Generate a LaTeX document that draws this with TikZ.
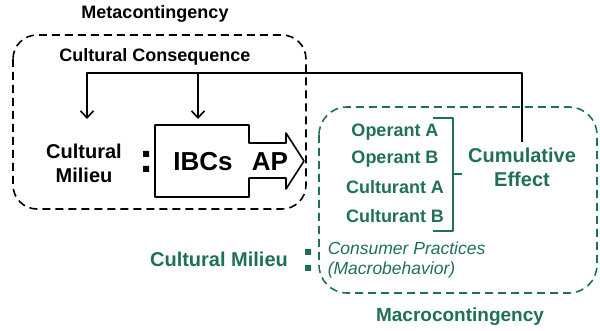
\documentclass[tikz,border=0pt]{standalone}
\usepackage{fontspec}
\setmainfont{Liberation Sans}
\usetikzlibrary{arrows.meta,positioning}
\definecolor{macrogreen}{RGB}{31,112,88}
\begin{document}
\begin{tikzpicture}[x=1pt, y=-1pt, line join = round, >={Straight Barb[length=7pt,width=13pt]}, line width=1.6pt]
				\tikzset{dashbox/.style={dash pattern=on 8pt off 5pt},
				label/.style={font=\fontsize{18}{22}\selectfont\bfseries, inner sep=2pt},
				big/.style={font=\fontsize{20}{24}\selectfont\bfseries, align=center, inner sep=2pt},
				huge/.style={font=\fontsize{26}{28}\selectfont\bfseries, inner sep=0pt}}
				\useasboundingbox (0,0) rectangle (600,331);
				% the two contingency frames
				\draw[dashbox, rounded corners=24pt] (13,35) rectangle (306,209);
				\draw[dashbox, macrogreen, rounded corners=28pt] (319,107) rectangle (597,293);
				\node[label] (meta) at (155,14) {Metacontingency};
				\node[label] (conseq) at (155,57) {Cultural Consequence};
				\node[big] (milieu) at (84,163) {Cultural\\Milieu};
				\fill (143,151) rectangle (149,157) (143,166) rectangle (149,172);
				% IBCs block with the AP arrow
				\draw (155,125) -- (249,125) -- (249,143) -- (286,143) -- (286,133) -- (304,161)
				-- (286,189) -- (286,178) -- (249,178) -- (249,197) -- (155,197) -- cycle;
				\node[huge] (ibcs) at (203,162) {IBCs};
				\node[huge] (ap) at (270,162) {AP};
				% macrocontingency side
				\foreach \n/\t/\y in {opa/Operant A/132, opb/Operant B/159, cua/Culturant A/187, cub/Culturant B/216}
				\node[label, macrogreen] (\n) at (395,\y) {\t};
				\node[big, macrogreen, inner sep=5pt] (cum) at (522,167) {Cumulative\\Effect};
				\draw[macrogreen, line width=1.4pt] (433,118) -| (453,231) -- (433,231);
				\coordinate (brace) at (453,174);
				\draw[macrogreen, line width=1.4pt] (brace) -- (brace -| cum.west);
				\node[big, macrogreen] (gmilieu) at (219,259) {Cultural Milieu};
				\fill[macrogreen] (305,249) rectangle (311,255) (305,265) rectangle (311,271);
				\node[font=\fontsize{17.5}{20}\selectfont\itshape, macrogreen, align=left, anchor=west, inner sep=0pt] (practices) at (327,260) {Consumer Practices\\(Macrobehavior)};
				\node[label, macrogreen, font=\fontsize{19}{22}\selectfont\bfseries] (macro) at (460,317) {Macrocontingency};
				% feedback from the cumulative effect
				\coordinate (bend) at (87,73);
				\coordinate (split) at (198,73);
				\coordinate (ltip) at (87,119);
				\coordinate (rtip) at (198,119);
				\draw[->] (cum.north) |- (bend) -- (ltip);
				\draw[->] (split) -- (rtip);
		\end{tikzpicture}
\end{document}
